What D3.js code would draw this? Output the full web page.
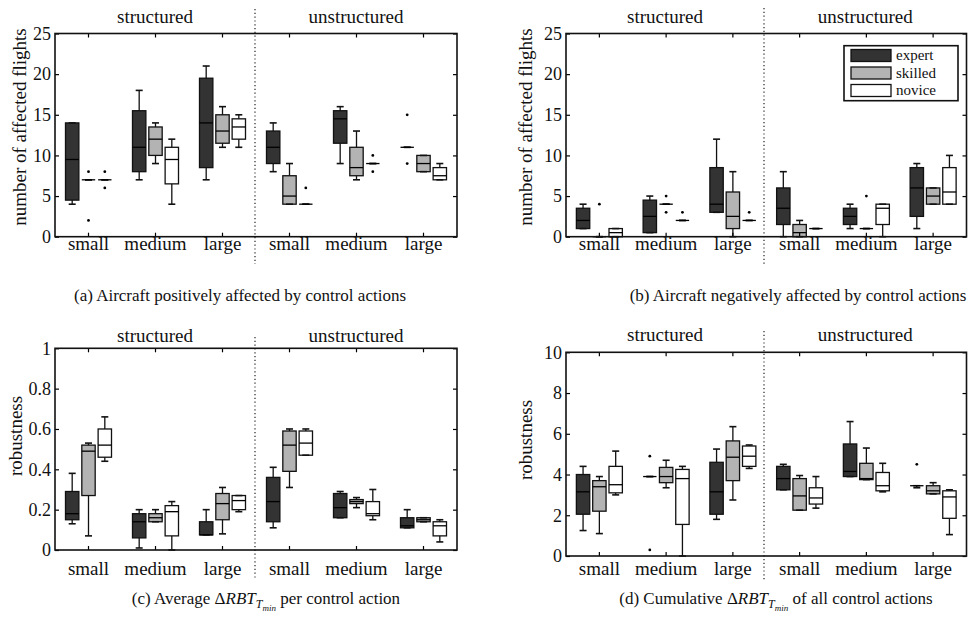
<!DOCTYPE html>
<html>
<head>
<meta charset="utf-8">
<script src="https://cdn.jsdelivr.net/npm/d3@7"></script>
<style>
  body { margin: 0; background: #fff; }
  svg text { font-family: 'Liberation Serif', 'Times New Roman', serif; fill: #111; }
</style>
</head>
<body>
<div id="chart"></div>
<script>
let layouts = ['structured', 'unstructured']
let sizes = ['small', 'medium', 'large']
let levels = ['expert', 'skilled', 'novice']
let levelColors = ['#333333', '#b3b3b3', '#ffffff']

let countTicks = [0, 5, 10, 15, 20, 25]
let avgTicks = [0, 0.2, 0.4, 0.6, 0.8, 1]
let cumTicks = [0, 2, 4, 6, 8, 10]

// box stats [min, q1, median, q3, max], order: layout > size > level
let positiveBoxes = [
  [4, 4.5, 9.5, 14, 14], [7, 7, 7, 7, 7], [7, 7, 7, 7, 7],
  [7, 8, 11, 15.5, 18], [9, 10, 12, 13.5, 14], [4, 6.5, 9.5, 11, 12],
  [7, 8.5, 14, 19.5, 21], [11, 11.5, 13, 15, 16], [11, 12, 13.5, 14.5, 15],
  [8, 9, 11, 13, 14], [4, 4, 5, 7.5, 9], [4, 4, 4, 4, 4],
  [9, 11.5, 14.5, 15.5, 16], [7, 7.5, 8.5, 11, 13], [9, 9, 9, 9, 9],
  [11, 11, 11, 11, 11], [8, 8, 9, 10, 10], [7, 7, 7.5, 8.5, 9]
]
let positiveOutliers = [
  [], [8, 2], [8, 6],
  [], [], [],
  [], [], [],
  [], [], [6],
  [], [], [10, 8],
  [15, 9], [], []
]

let negativeBoxes = [
  [1, 1, 2, 3.5, 4], [0, 0, 0, 0, 0], [0, 0, 0.5, 1, 1],
  [0.5, 0.5, 2.5, 4.5, 5], [4, 4, 4, 4, 4], [2, 2, 2, 2, 2],
  [3, 3, 4, 8.5, 12], [0, 1, 2.5, 5.5, 8], [2, 2, 2, 2, 2],
  [0, 1.5, 3.5, 6, 8], [0, 0, 0.5, 1.5, 2], [1, 1, 1, 1, 1],
  [1, 1.5, 2.5, 3.5, 4], [1, 1, 1, 1, 1], [0, 1.5, 3.5, 4, 4],
  [1, 2.5, 6, 8.5, 9], [4, 4, 5, 6, 6], [4, 4, 5.5, 8.5, 10]
]
let negativeOutliers = [
  [], [4], [],
  [], [5, 3], [3],
  [], [], [3],
  [], [], [],
  [], [5], [],
  [], [], []
]

let avgBoxes = [
  [0.13, 0.15, 0.18, 0.29, 0.38], [0.07, 0.27, 0.49, 0.52, 0.53], [0.44, 0.46, 0.52, 0.6, 0.66],
  [0.01, 0.06, 0.14, 0.18, 0.2], [0.14, 0.14, 0.16, 0.18, 0.2], [0, 0.07, 0.19, 0.22, 0.24],
  [0.075, 0.075, 0.075, 0.14, 0.2], [0.08, 0.15, 0.23, 0.28, 0.31], [0.19, 0.2, 0.245, 0.27, 0.27],
  [0.11, 0.14, 0.24, 0.36, 0.41], [0.31, 0.39, 0.52, 0.59, 0.6], [0.47, 0.47, 0.53, 0.59, 0.6],
  [0.16, 0.16, 0.21, 0.28, 0.29], [0.21, 0.23, 0.24, 0.25, 0.26], [0.15, 0.17, 0.18, 0.24, 0.3],
  [0.11, 0.11, 0.12, 0.16, 0.2], [0.14, 0.14, 0.15, 0.16, 0.16], [0.04, 0.07, 0.12, 0.14, 0.15]
]
let avgOutliers = [[], [], [], [], [], [], [], [], [], [], [], [], [], [], [], [], [], []]

let cumBoxes = [
  [1.25, 2.05, 3.15, 4, 4.4], [1.1, 2.2, 3.4, 3.7, 3.9], [3, 3.1, 3.5, 4.4, 5.15],
  [3.9, 3.9, 3.9, 3.9, 3.9], [3.35, 3.6, 3.9, 4.35, 4.7], [0, 1.55, 3.8, 4.25, 4.4],
  [1.8, 2.05, 3.15, 4.6, 5.25], [2.75, 3.7, 4.85, 5.65, 6.35], [4.3, 4.4, 4.9, 5.4, 5.45],
  [3.25, 3.25, 3.8, 4.4, 4.5], [2.25, 2.25, 2.95, 3.8, 3.95], [2.35, 2.55, 2.85, 3.35, 3.9],
  [3.9, 3.9, 4.15, 5.5, 6.6], [3.75, 3.75, 3.8, 4.55, 5.3], [3.15, 3.2, 3.45, 4.1, 4.55],
  [3.35, 3.45, 3.45, 3.45, 3.45], [3.05, 3.05, 3.2, 3.45, 3.6], [1.05, 1.85, 2.9, 3.2, 3.25]
]
let cumOutliers = [
  [], [], [],
  [4.9, 0.3], [], [],
  [], [], [],
  [], [], [],
  [], [], [],
  [4.5], [], []
]

let panels = [
  {
    boxes: positiveBoxes, outliers: positiveOutliers, ticks: countTicks, max: 25,
    ylabel: 'number of affected flights',
    caption: [['(a) Aircraft positively affected by control actions']],
    left: 55, top: 33.5, right: 457, bottom: 236.7, divider: 255, lineTop: 9, lineBottom: 264,
    titleY: 23, labelY: 250, ylabelX: 26, ylabelY: 127, captionX: 240, captionY: 301
  },
  {
    boxes: negativeBoxes, outliers: negativeOutliers, ticks: countTicks, max: 25,
    ylabel: 'number of affected flights', legend: true,
    caption: [['(b) Aircraft negatively affected by control actions']],
    left: 566, top: 33.5, right: 966.5, bottom: 236.7, divider: 764, lineTop: 8, lineBottom: 264,
    titleY: 23, labelY: 250, ylabelX: 532, ylabelY: 127, captionX: 798, captionY: 301
  },
  {
    boxes: avgBoxes, outliers: avgOutliers, ticks: avgTicks, max: 1,
    ylabel: 'robustness',
    caption: [['(c) Average Δ'], ['RBT', 'i'], ['T', 's'], ['min', 'ss'], [' per control action', 'n']],
    left: 55, top: 348.3, right: 457, bottom: 550, divider: 255, lineTop: 337, lineBottom: 579,
    titleY: 342, labelY: 575, ylabelX: 22, ylabelY: 436, captionX: 266, captionY: 604
  },
  {
    boxes: cumBoxes, outliers: cumOutliers, ticks: cumTicks, max: 10,
    ylabel: 'robustness',
    caption: [['(d) Cumulative Δ'], ['RBT', 'i'], ['T', 's'], ['min', 'ss'], [' of all control actions', 'n']],
    left: 566, top: 352.3, right: 966.5, bottom: 556, divider: 764, lineTop: 331, lineBottom: 580,
    titleY: 341, labelY: 575, ylabelX: 532, ylabelY: 440, captionX: 776, captionY: 604
  }
]

let svg = d3
  .select('#chart')
  .append('svg')
  .attr('width', 978)
  .attr('height', 619)

let groupKeys = []
layouts.forEach(l => sizes.forEach(s => groupKeys.push(l + '|' + s)))

let levelScale = d3.scaleBand().domain(levels).range([-23, 23]).paddingInner(0.18)
let boxWidth = levelScale.bandwidth()
let capWidth = 7

panels.forEach(p => {
  let g = svg.append('g')

  let xPositionScale = d3.scaleBand().domain(groupKeys).range([p.left, p.right])
  let yPositionScale = d3.scaleLinear().domain([0, p.max]).range([p.bottom, p.top])

  // dotted divider between structured / unstructured
  g.append('line')
    .attr('x1', p.divider).attr('x2', p.divider)
    .attr('y1', p.lineTop).attr('y2', p.lineBottom)
    .attr('stroke', '#222')
    .attr('stroke-width', 1.2)
    .attr('stroke-dasharray', '1.2,2.6')

  // section titles
  let halves = [[p.left, p.divider], [p.divider, p.right]]
  layouts.forEach((l, i) => {
    g.append('text')
      .attr('x', (halves[i][0] + halves[i][1]) / 2)
      .attr('y', p.titleY)
      .attr('text-anchor', 'middle')
      .attr('font-size', 19)
      .text(l)
  })

  // boxes
  let rows = []
  p.boxes.forEach((b, i) => {
    rows.push({
      group: groupKeys[Math.floor(i / 3)],
      level: levels[i % 3],
      color: levelColors[i % 3],
      stats: b,
      outliers: p.outliers[i]
    })
  })

  let boxG = g.selectAll('.box')
    .data(rows)
    .enter()
    .append('g')
    .attr('class', 'box')
    .attr('transform', d => {
      let cx = xPositionScale(d.group) + xPositionScale.bandwidth() / 2 + levelScale(d.level) + boxWidth / 2
      return 'translate(' + cx + ',0)'
    })

  boxG.append('line')
    .attr('x1', 0).attr('x2', 0)
    .attr('y1', d => yPositionScale(d.stats[0]))
    .attr('y2', d => yPositionScale(d.stats[4]))
    .attr('stroke', '#111')
    .attr('stroke-width', 1.3)

  boxG.append('rect')
    .attr('x', -boxWidth / 2)
    .attr('width', boxWidth)
    .attr('y', d => yPositionScale(d.stats[3]))
    .attr('height', d => yPositionScale(d.stats[1]) - yPositionScale(d.stats[3]))
    .attr('fill', d => d.color)
    .attr('stroke', '#111')
    .attr('stroke-width', 1.3)

  ;[0, 4].forEach(k => {
    boxG.append('line')
      .attr('x1', -capWidth / 2).attr('x2', capWidth / 2)
      .attr('y1', d => yPositionScale(d.stats[k]))
      .attr('y2', d => yPositionScale(d.stats[k]))
      .attr('stroke', '#111')
      .attr('stroke-width', 1.6)
  })

  boxG.append('line')
    .attr('x1', -boxWidth / 2).attr('x2', boxWidth / 2)
    .attr('y1', d => yPositionScale(d.stats[2]))
    .attr('y2', d => yPositionScale(d.stats[2]))
    .attr('stroke', '#000')
    .attr('stroke-width', 1.3)

  boxG.selectAll('circle')
    .data(d => d.outliers)
    .enter()
    .append('circle')
    .attr('cx', 0)
    .attr('cy', d => yPositionScale(d))
    .attr('r', 1.4)
    .attr('fill', '#000')

  // axes, ticks pointing inward on all four sides
  let xAxis = d3.axisBottom(xPositionScale)
    .tickSizeInner(-4).tickSizeOuter(0)
    .tickFormat(d => d.split('|')[1])
  g.append('g')
    .attr('class', 'axis x-axis')
    .attr('transform', 'translate(0,' + p.bottom + ')')
    .call(xAxis)
    .call(a => a.select('.domain').remove())
    .call(a => a.selectAll('text')
      .attr('y', p.labelY - p.bottom)
      .attr('dy', 0)
      .attr('font-size', 19))

  g.append('g')
    .attr('transform', 'translate(0,' + p.top + ')')
    .call(d3.axisTop(xPositionScale).tickSizeInner(-4).tickSizeOuter(0).tickFormat(''))
    .call(a => a.select('.domain').remove())

  let yAxis = d3.axisLeft(yPositionScale)
    .tickValues(p.ticks)
    .tickSizeInner(-4).tickSizeOuter(0)
    .tickPadding(4)
    .tickFormat(d3.format(''))
  g.append('g')
    .attr('class', 'axis y-axis')
    .attr('transform', 'translate(' + p.left + ',0)')
    .call(yAxis)
    .call(a => a.select('.domain').remove())
    .call(a => a.selectAll('text').attr('font-size', 18))

  g.append('g')
    .attr('transform', 'translate(' + p.right + ',0)')
    .call(d3.axisRight(yPositionScale).tickValues(p.ticks).tickSizeInner(-4).tickSizeOuter(0).tickFormat(''))
    .call(a => a.select('.domain').remove())

  g.selectAll('.tick line').attr('stroke-width', 1.2)

  g.append('rect')
    .attr('x', p.left)
    .attr('y', p.top)
    .attr('width', p.right - p.left)
    .attr('height', p.bottom - p.top)
    .attr('fill', 'none')
    .attr('stroke', '#111')
    .attr('stroke-width', 1.6)

  g.append('text')
    .attr('transform', 'translate(' + p.ylabelX + ',' + p.ylabelY + ') rotate(-90)')
    .attr('text-anchor', 'middle')
    .attr('font-size', 19)
    .text(p.ylabel)

  // caption with sub-/subsubscripts
  let cap = g.append('text')
    .attr('x', p.captionX)
    .attr('y', p.captionY)
    .attr('text-anchor', 'middle')
    .attr('font-size', 17)
  let shift = 0
  p.caption.forEach(part => {
    let t = cap.append('tspan').text(part[0])
    let style = part[1]
    if (style === 'i') t.attr('font-style', 'italic')
    if (style === 's') {
      t.attr('font-style', 'italic').attr('font-size', 12).attr('dy', 4)
      shift += 4
    }
    if (style === 'ss') {
      t.attr('font-style', 'italic').attr('font-size', 9).attr('dy', 2.5)
      shift += 2.5
    }
    if (style === 'n') {
      t.attr('dy', -shift)
      shift = 0
    }
  })

  if (p.legend) {
    let lg = g.append('g')
    lg.append('rect')
      .attr('x', 844).attr('y', 45.7)
      .attr('width', 114).attr('height', 55)
      .attr('fill', '#fff')
      .attr('stroke', '#111')
      .attr('stroke-width', 1.6)
    levels.forEach((lv, i) => {
      lg.append('rect')
        .attr('x', 851).attr('y', 49.5 + i * 17.5)
        .attr('width', 40).attr('height', 12)
        .attr('fill', levelColors[i])
        .attr('stroke', '#111')
        .attr('stroke-width', 1.3)
      lg.append('text')
        .attr('x', 896).attr('y', 60 + i * 17.5)
        .attr('font-size', 15)
        .text(lv)
    })
  }
})
</script>
</body>
</html>
